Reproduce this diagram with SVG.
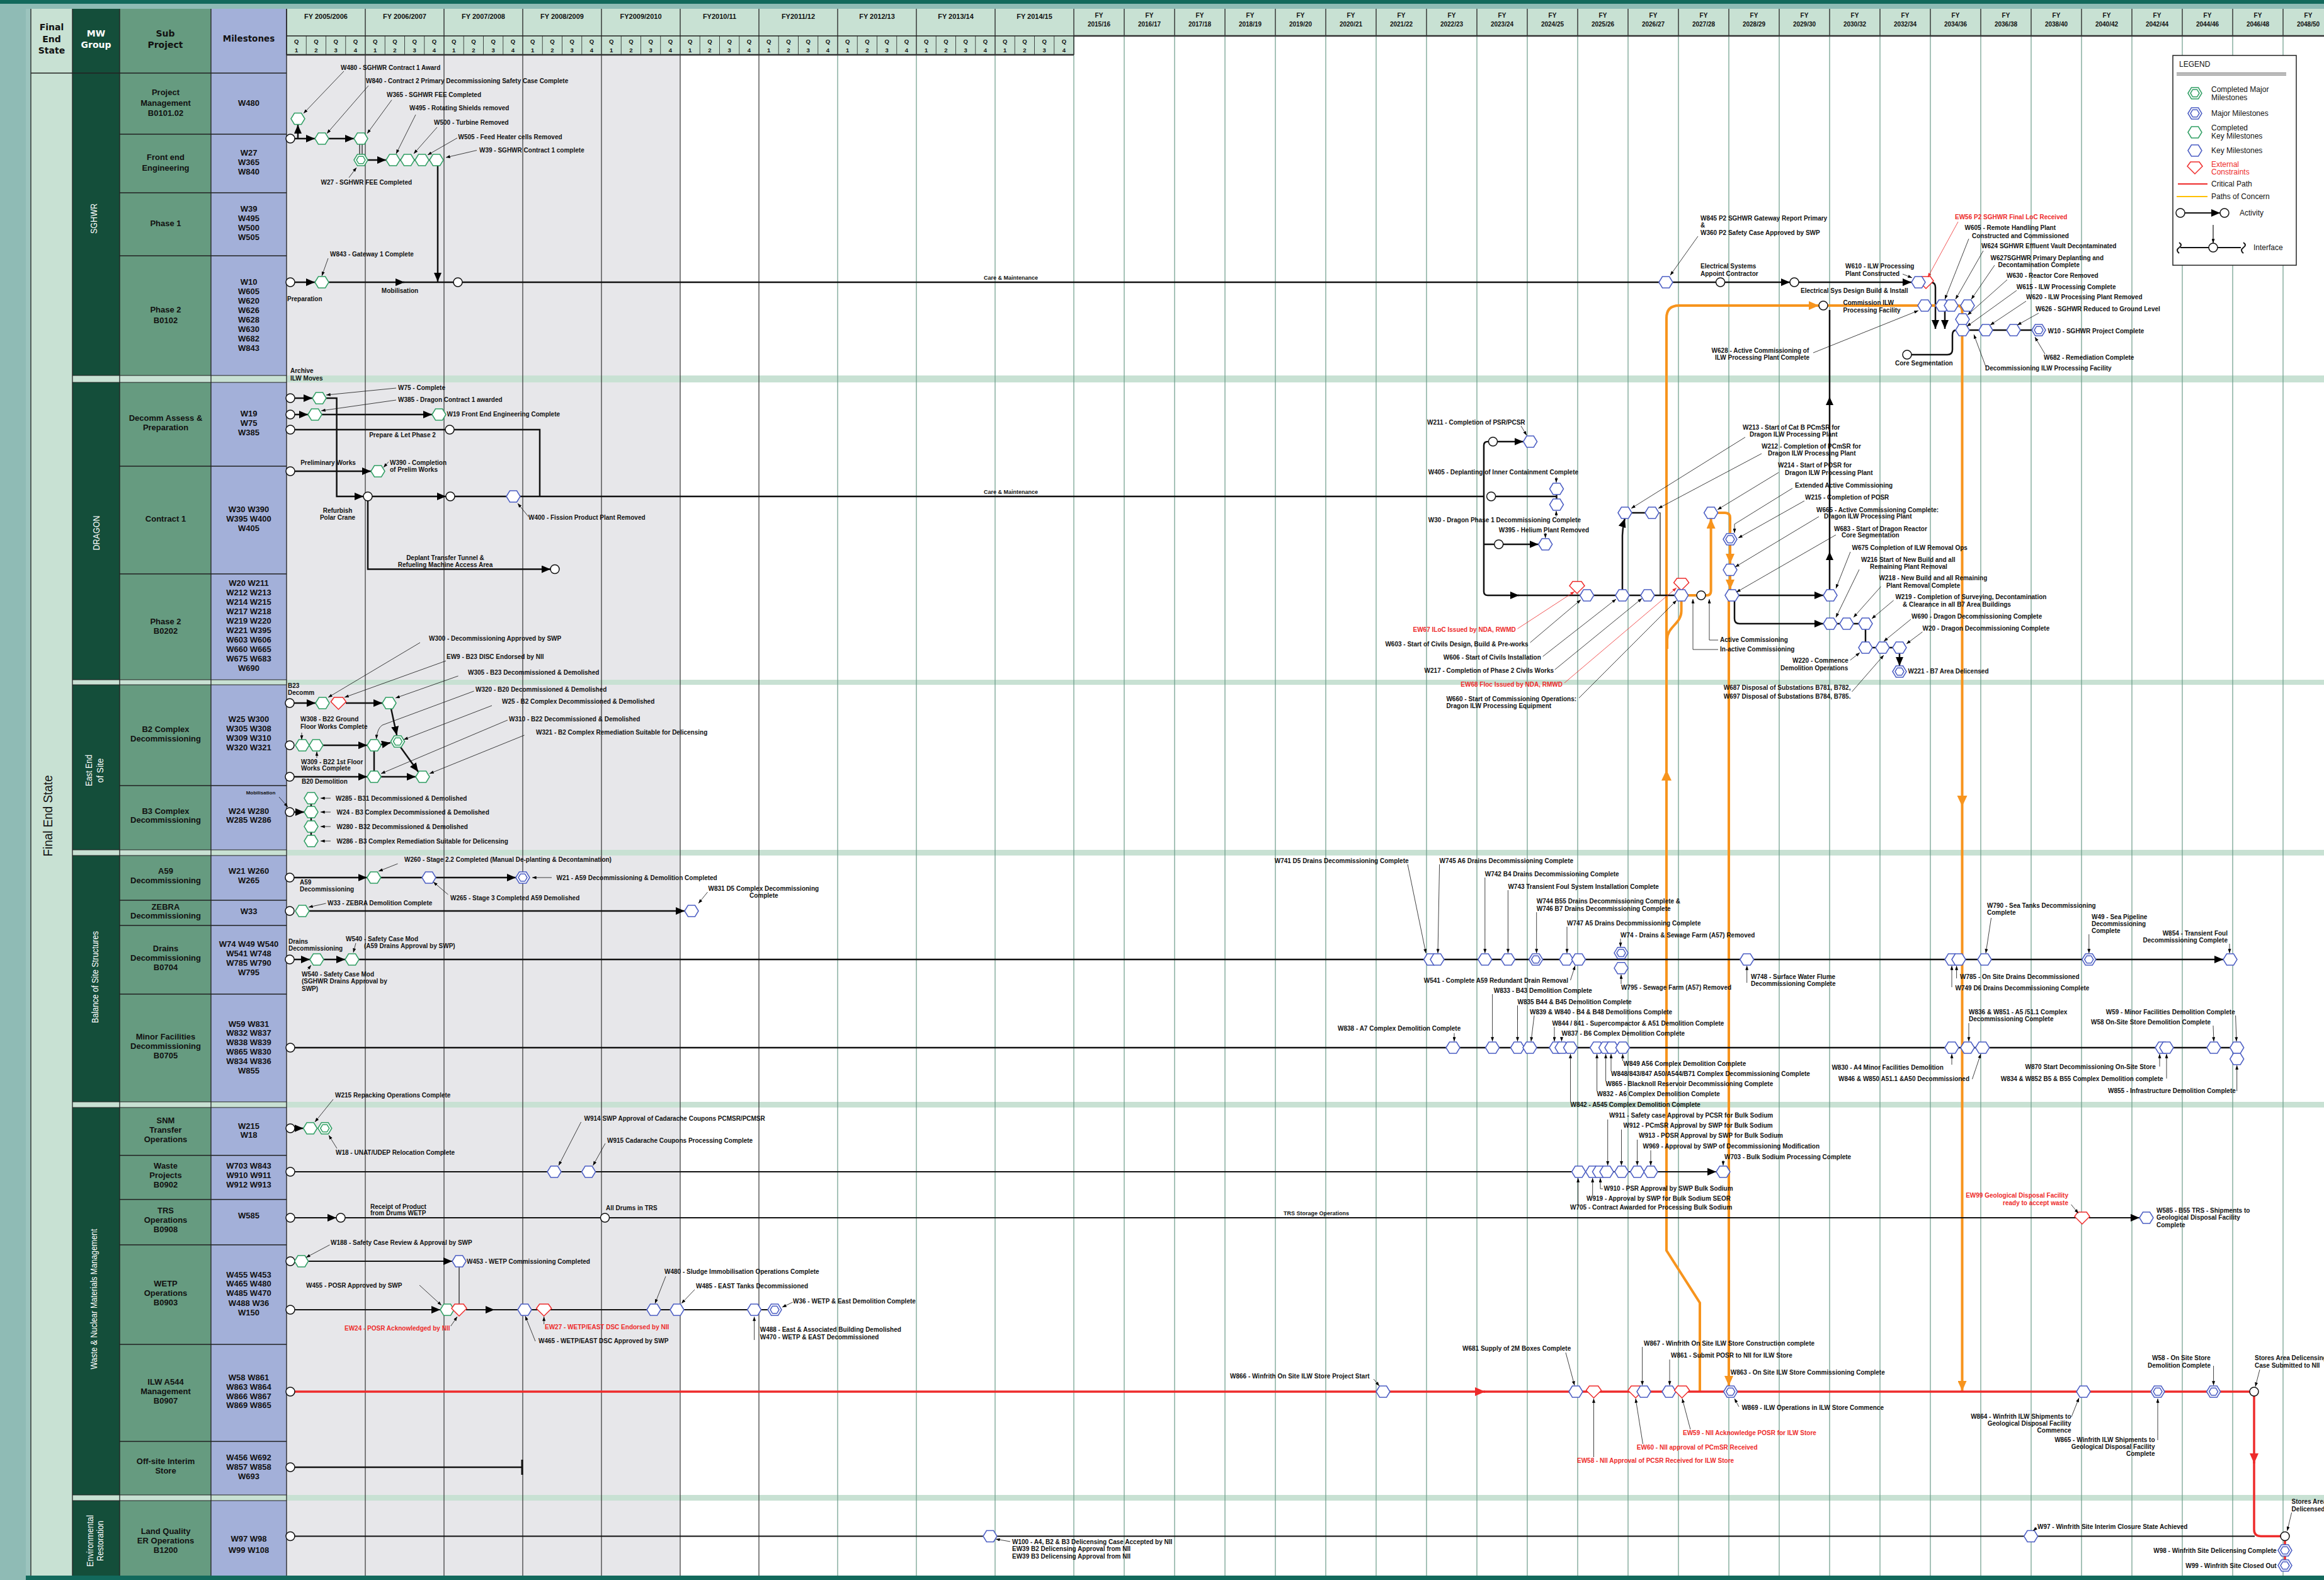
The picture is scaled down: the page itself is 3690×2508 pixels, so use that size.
<svg xmlns="http://www.w3.org/2000/svg" width="3690" height="2508" viewBox="0 0 3690 2508">
<style>
text{font-family:"Liberation Sans",Arial,sans-serif}
.t{font-size:10px;font-weight:bold;fill:#111}
.tr{font-size:10px;font-weight:bold;fill:#ee2b2b}
.ts{font-size:9px;font-weight:bold;fill:#111}
.m{text-anchor:middle}
.e{text-anchor:end}
.sp{font-size:13px;font-weight:bold;fill:#111;text-anchor:middle}
.hd{font-family:"DejaVu Sans",sans-serif;font-weight:bold;text-anchor:middle;fill:#111}
.mw{font-size:14px;fill:#fff;text-anchor:middle}
.lg{font-size:12px;fill:#111}
.hb{fill:#fff;stroke:#4b5dc3;stroke-width:1.5}
.hg{fill:#fff;stroke:#2f9e63;stroke-width:1.5}
.hr{fill:#fff;stroke:#ee2b2b;stroke-width:1.5}
.c{fill:#fff;stroke:#111;stroke-width:1.5}
.a{fill:none;stroke:#111;stroke-width:2.5}
.a2{fill:none;stroke:#111;stroke-width:1.8}
.a1{fill:none;stroke:#111;stroke-width:1.2}
.cp{fill:none;stroke:#ee2b2b;stroke-width:3.5}
.pc{fill:none;stroke:#f7941d;stroke-width:4}
.ld{fill:none;stroke:#111;stroke-width:0.8;marker-end:url(#s)}
.ldr{fill:none;stroke:#ee2b2b;stroke-width:0.8;marker-end:url(#sr)}
.gd{stroke:#333;stroke-width:1.2}
.gg{stroke:#6b9b89;stroke-width:1.2}
.bd{stroke:#222;stroke-width:1.3;fill:none}
</style>
<defs>
<polygon id="H" points="-11,0 -5.5,-9 5.5,-9 11,0 5.5,9 -5.5,9"/>
<g id="D"><polygon points="-11,0 -5.5,-9 5.5,-9 11,0 5.5,9 -5.5,9"/><polygon points="-7,0 -3.5,-5.8 3.5,-5.8 7,0 3.5,5.8 -3.5,5.8"/></g>
<polygon id="R" points="-7,-9 7,-9 12,-2 0,10 -12,-2"/>
<marker id="A" viewBox="0 0 14 12" refX="14" refY="6" markerWidth="14" markerHeight="12" markerUnits="userSpaceOnUse" orient="auto"><path d="M0,0L14,6L0,12z"/></marker>
<marker id="Ao" viewBox="0 0 16 14" refX="16" refY="7" markerWidth="16" markerHeight="14" markerUnits="userSpaceOnUse" orient="auto"><path d="M0,0L16,7L0,14z" fill="#f7941d"/></marker>
<marker id="Ar" viewBox="0 0 16 14" refX="16" refY="7" markerWidth="16" markerHeight="14" markerUnits="userSpaceOnUse" orient="auto"><path d="M0,0L16,7L0,14z" fill="#ee2b2b"/></marker>
<marker id="s" viewBox="0 0 8 6" refX="8" refY="3" markerWidth="7" markerHeight="5" markerUnits="userSpaceOnUse" orient="auto"><path d="M0,0L8,3L0,6z"/></marker>
<marker id="sr" viewBox="0 0 8 6" refX="8" refY="3" markerWidth="7" markerHeight="5" markerUnits="userSpaceOnUse" orient="auto"><path d="M0,0L8,3L0,6z" fill="#ee2b2b"/></marker>
</defs>

<g id="background">
<rect width="3690" height="2508" fill="#fff"/>
<rect x="455" y="87" width="625" height="2414" fill="#e7e7ea"/>
<rect x="0" y="0" width="41" height="2508" fill="#8fbbb5"/>
<rect x="41" y="14" width="8" height="2487" fill="#9cc4be"/>
<rect x="49" y="14" width="66" height="2487" fill="#c8e1d3"/>
<rect x="115" y="14" width="75" height="2487" fill="#144e3a"/>
<rect x="190" y="14" width="145" height="2487" fill="#669b80"/>
<rect x="335" y="14" width="120" height="2487" fill="#a3b0d9"/>
<rect x="0" y="0" width="3690" height="6" fill="#12695c"/>
<rect x="41" y="6" width="3649" height="8" fill="#8fbbb5"/>
<rect x="41" y="2501" width="3649" height="7" fill="#12695c"/>
<rect x="115" y="596" width="3575" height="11" fill="#c8e1d3"/>
<rect x="115" y="1079" width="3575" height="8" fill="#c8e1d3"/>
<rect x="115" y="1349" width="3575" height="9" fill="#c8e1d3"/>
<rect x="115" y="1749" width="3575" height="9" fill="#c8e1d3"/>
<rect x="115" y="2373" width="3575" height="9" fill="#c8e1d3"/>
<rect x="455" y="14" width="1250" height="73" fill="#c8e1d3"/>
<rect x="1705" y="14" width="1985" height="43" fill="#c8e1d3"/>
</g>

<g id="grid">
<path class="gd" d="M580,87V2501M705,87V2501M830,87V2501M955,87V2501M1080,87V2501M1205,87V2501"/>
<path class="gg" d="M1330,87V2501M1455,87V2501M1580,87V2501M1705,57V2501M1785,57V2501M1865,57V2501M1945,57V2501M2025,57V2501M2105,57V2501M2185,57V2501M2265,57V2501M2345,57V2501M2425,57V2501M2505,57V2501M2585,57V2501M2665,57V2501M2745,57V2501M2825,57V2501M2905,57V2501M2985,57V2501M3065,57V2501M3145,57V2501M3225,57V2501M3305,57V2501M3385,57V2501M3465,57V2501M3545,57V2501M3625,57V2501"/>
<path class="bd" d="M455,14V87M580,14V87M705,14V87M830,14V87M955,14V87M1080,14V87M1205,14V87M1330,14V87M1455,14V87M1580,14V87M1705,14V87M455,57H1705M1785,14V57M1865,14V57M1945,14V57M2025,14V57M2105,14V57M2185,14V57M2265,14V57M2345,14V57M2425,14V57M2505,14V57M2585,14V57M2665,14V57M2745,14V57M2825,14V57M2905,14V57M2985,14V57M3065,14V57M3145,14V57M3225,14V57M3305,14V57M3385,14V57M3465,14V57M3545,14V57M3625,14V57"/>
<path stroke="#222" stroke-width="0.8" d="M486.25,57V87M517.5,57V87M548.75,57V87M611.25,57V87M642.5,57V87M673.75,57V87M736.25,57V87M767.5,57V87M798.75,57V87M861.25,57V87M892.5,57V87M923.75,57V87M986.25,57V87M1017.5,57V87M1048.75,57V87M1111.25,57V87M1142.5,57V87M1173.75,57V87M1236.25,57V87M1267.5,57V87M1298.75,57V87M1361.25,57V87M1392.5,57V87M1423.75,57V87M1486.25,57V87M1517.5,57V87M1548.75,57V87M1611.25,57V87M1642.5,57V87M1673.75,57V87"/>
<path stroke="#333" stroke-width="2.5" d="M455,87H1705M1705,57H3690"/>
<path class="bd" d="M49,116H455M115,14V2501M190,14V2501M335,14V2501M455,14V2501M49,14V2501"/>
<path class="bd" d="M190,213H455M190,306H455M190,406H455M190,740H455M190,911H455M190,1247H455M190,1429H455M190,1469H455M190,1578H455M190,1834H455M190,1904H455M190,1976H455M190,2134H455M190,2288H455"/>
<path stroke="#222" stroke-width="1" d="M115,596H455M115,607H455M115,1079H455M115,1087H455M115,1349H455M115,1358H455M115,1749H455M115,1758H455M115,2373H455M115,2382H455"/>
</g>

<g id="header">
<text class="hd" font-size="14" x="82" y="47.5">Final</text>
<text class="hd" font-size="14" x="82" y="66.5">End</text>
<text class="hd" font-size="14" x="82" y="85">State</text>
<text class="hd" font-size="14" x="152.5" y="58" fill="#fff" style="fill:#fff">MW</text>
<text class="hd" font-size="14" x="152.5" y="76" style="fill:#fff">Group</text>
<text class="hd" font-size="14" x="262.5" y="58">Sub</text>
<text class="hd" font-size="14" x="262.5" y="76">Project</text>
<text class="hd" font-size="13.5" x="395" y="66">Milestones</text>
<g class="hd" font-size="11">
<text x="517.5" y="30">FY 2005/2006</text><text x="642.5" y="30">FY 2006/2007</text><text x="767.5" y="30">FY 2007/2008</text><text x="892.5" y="30">FY 2008/2009</text><text x="1017.5" y="30">FY2009/2010</text><text x="1142.5" y="30">FY2010/11</text><text x="1267.5" y="30">FY2011/12</text><text x="1392.5" y="30">FY 2012/13</text><text x="1517.5" y="30">FY 2013/14</text><text x="1642.5" y="30">FY 2014/15</text>
</g>
<g class="hd" font-size="9.5">
<text x="470.6 501.9 533.1 564.4 595.6 626.9 658.1 689.4 720.6 751.9 783.1 814.4 845.6 876.9 908.1 939.4 970.6 1001.9 1033.1 1064.4 1095.6 1126.9 1158.1 1189.4 1220.6 1251.9 1283.1 1314.4 1345.6 1376.9 1408.1 1439.4 1470.6 1501.9 1533.1 1564.4 1595.6 1626.9 1658.1 1689.4" y="69">QQQQQQQQQQQQQQQQQQQQQQQQQQQQQQQQQQQQQQQQ</text>
<text x="470.6 501.9 533.1 564.4 595.6 626.9 658.1 689.4 720.6 751.9 783.1 814.4 845.6 876.9 908.1 939.4 970.6 1001.9 1033.1 1064.4 1095.6 1126.9 1158.1 1189.4 1220.6 1251.9 1283.1 1314.4 1345.6 1376.9 1408.1 1439.4 1470.6 1501.9 1533.1 1564.4 1595.6 1626.9 1658.1 1689.4" y="83">1234123412341234123412341234123412341234</text>
</g>
<g class="hd" font-size="10">
<text x="1745" y="28">FY</text><text x="1745" y="42">2015/16</text>
<text x="1825" y="28">FY</text><text x="1825" y="42">2016/17</text>
<text x="1905" y="28">FY</text><text x="1905" y="42">2017/18</text>
<text x="1985" y="28">FY</text><text x="1985" y="42">2018/19</text>
<text x="2065" y="28">FY</text><text x="2065" y="42">2019/20</text>
<text x="2145" y="28">FY</text><text x="2145" y="42">2020/21</text>
<text x="2225" y="28">FY</text><text x="2225" y="42">2021/22</text>
<text x="2305" y="28">FY</text><text x="2305" y="42">2022/23</text>
<text x="2385" y="28">FY</text><text x="2385" y="42">2023/24</text>
<text x="2465" y="28">FY</text><text x="2465" y="42">2024/25</text>
<text x="2545" y="28">FY</text><text x="2545" y="42">2025/26</text>
<text x="2625" y="28">FY</text><text x="2625" y="42">2026/27</text>
<text x="2705" y="28">FY</text><text x="2705" y="42">2027/28</text>
<text x="2785" y="28">FY</text><text x="2785" y="42">2028/29</text>
<text x="2865" y="28">FY</text><text x="2865" y="42">2029/30</text>
<text x="2945" y="28">FY</text><text x="2945" y="42">2030/32</text>
<text x="3025" y="28">FY</text><text x="3025" y="42">2032/34</text>
<text x="3105" y="28">FY</text><text x="3105" y="42">2034/36</text>
<text x="3185" y="28">FY</text><text x="3185" y="42">2036/38</text>
<text x="3265" y="28">FY</text><text x="3265" y="42">2038/40</text>
<text x="3345" y="28">FY</text><text x="3345" y="42">2040/42</text>
<text x="3425" y="28">FY</text><text x="3425" y="42">2042/44</text>
<text x="3505" y="28">FY</text><text x="3505" y="42">2044/46</text>
<text x="3585" y="28">FY</text><text x="3585" y="42">2046/48</text>
<text x="3665" y="28">FY</text><text x="3665" y="42">2048/50</text>
</g>
</g>

<g id="side-labels">
<text transform="translate(83,1295) rotate(-90)" font-size="20" text-anchor="middle" fill="#111" textLength="129" lengthAdjust="spacingAndGlyphs">Final End State</text>
<text class="mw" transform="translate(154,347) rotate(-90)" textLength="48" lengthAdjust="spacingAndGlyphs">SGHWR</text>
<text class="mw" transform="translate(158,846) rotate(-90)" textLength="55" lengthAdjust="spacingAndGlyphs">DRAGON</text>
<text class="mw" transform="translate(146,1223) rotate(-90)" textLength="50" lengthAdjust="spacingAndGlyphs">East End</text>
<text class="mw" transform="translate(164,1223) rotate(-90)" textLength="39" lengthAdjust="spacingAndGlyphs">of Site</text>
<text class="mw" transform="translate(156,1551) rotate(-90)" textLength="146" lengthAdjust="spacingAndGlyphs">Balance of Site Structures</text>
<text class="mw" transform="translate(154,2062) rotate(-90)" textLength="223" lengthAdjust="spacingAndGlyphs">Waste &amp; Nuclear Materials Management</text>
<text class="mw" transform="translate(148,2446) rotate(-90)" textLength="82" lengthAdjust="spacingAndGlyphs">Environmental</text>
<text class="mw" transform="translate(164,2446) rotate(-90)" textLength="64" lengthAdjust="spacingAndGlyphs">Restoration</text>
<g class="sp">
<text x="263" y="151">Project</text><text x="263" y="168">Management</text><text x="263" y="184">B0101.02</text>
<text x="263" y="254">Front end</text><text x="263" y="271">Engineering</text>
<text x="263" y="359">Phase 1</text>
<text x="263" y="496">Phase 2</text><text x="263" y="513">B0102</text>
<text x="263" y="668">Decomm Assess &amp;</text><text x="263" y="683">Preparation</text>
<text x="263" y="828">Contract 1</text>
<text x="263" y="991">Phase 2</text><text x="263" y="1006">B0202</text>
<text x="263" y="1162">B2 Complex</text><text x="263" y="1177">Decommissioning</text>
<text x="263" y="1292">B3 Complex</text><text x="263" y="1306">Decommissioning</text>
<text x="263" y="1387">A59</text><text x="263" y="1402">Decommissioning</text>
<text x="263" y="1444">ZEBRA</text><text x="263" y="1458">Decommissioning</text>
<text x="263" y="1510">Drains</text><text x="263" y="1525">Decommissioning</text><text x="263" y="1540">B0704</text>
<text x="263" y="1650">Minor Facilities</text><text x="263" y="1665">Decommissioning</text><text x="263" y="1680">B0705</text>
<text x="263" y="1783">SNM</text><text x="263" y="1798">Transfer</text><text x="263" y="1813">Operations</text>
<text x="263" y="1855">Waste</text><text x="263" y="1870">Projects</text><text x="263" y="1885">B0902</text>
<text x="263" y="1926">TRS</text><text x="263" y="1941">Operations</text><text x="263" y="1956">B0908</text>
<text x="263" y="2042">WETP</text><text x="263" y="2057">Operations</text><text x="263" y="2072">B0903</text>
<text x="263" y="2198">ILW A544</text><text x="263" y="2213">Management</text><text x="263" y="2228">B0907</text>
<text x="263" y="2324">Off-site Interim</text><text x="263" y="2339">Store</text>
<text x="263" y="2435">Land Quality</text><text x="263" y="2450">ER Operations</text><text x="263" y="2465">B1200</text>
</g>
<g class="sp">
<text x="395" y="168">W480</text>
<text x="395" y="247">W27</text><text x="395" y="262">W365</text><text x="395" y="277">W840</text>
<text x="395" y="336">W39</text><text x="395" y="351">W495</text><text x="395" y="366">W500</text><text x="395" y="381">W505</text>
<text x="395" y="452">W10</text><text x="395" y="467">W605</text><text x="395" y="482">W620</text><text x="395" y="497">W626</text><text x="395" y="512">W628</text><text x="395" y="527">W630</text><text x="395" y="542">W682</text><text x="395" y="557">W843</text>
<text x="395" y="661">W19</text><text x="395" y="676">W75</text><text x="395" y="691">W385</text>
<text x="395" y="813">W30 W390</text><text x="395" y="828">W395 W400</text><text x="395" y="843">W405</text>
<text x="395" y="930">W20 W211</text><text x="395" y="945">W212 W213</text><text x="395" y="960">W214 W215</text><text x="395" y="975">W217 W218</text><text x="395" y="990">W219 W220</text><text x="395" y="1005">W221 W395</text><text x="395" y="1020">W603 W606</text><text x="395" y="1035">W660 W665</text><text x="395" y="1050">W675 W683</text><text x="395" y="1065">W690</text>
<text x="395" y="1146">W25 W300</text><text x="395" y="1161">W305 W308</text><text x="395" y="1176">W309 W310</text><text x="395" y="1191">W320 W321</text>
<text x="395" y="1292">W24 W280</text><text x="395" y="1306">W285 W286</text>
<text x="395" y="1387">W21 W260</text><text x="395" y="1402">W265</text>
<text x="395" y="1451">W33</text>
<text x="395" y="1503">W74 W49 W540</text><text x="395" y="1518">W541 W748</text><text x="395" y="1533">W785 W790</text><text x="395" y="1548">W795</text>
<text x="395" y="1630">W59 W831</text><text x="395" y="1644">W832 W837</text><text x="395" y="1659">W838 W839</text><text x="395" y="1674">W865 W830</text><text x="395" y="1689">W834 W836</text><text x="395" y="1704">W855</text>
<text x="395" y="1792">W215</text><text x="395" y="1806">W18</text>
<text x="395" y="1855">W703 W843</text><text x="395" y="1870">W910 W911</text><text x="395" y="1885">W912 W913</text>
<text x="395" y="1934">W585</text>
<text x="395" y="2028">W455 W453</text><text x="395" y="2042">W465 W480</text><text x="395" y="2057">W485 W470</text><text x="395" y="2073">W488 W36</text><text x="395" y="2088">W150</text>
<text x="395" y="2191">W58 W861</text><text x="395" y="2206">W863 W864</text><text x="395" y="2221">W866 W867</text><text x="395" y="2235">W869 W865</text>
<text x="395" y="2318">W456 W692</text><text x="395" y="2333">W857 W858</text><text x="395" y="2348">W693</text>
<text x="395" y="2447">W97 W98</text><text x="395" y="2465">W99 W108</text>
</g>
</g>

<g id="connectors">
<path class="a" d="M468,220H500" marker-end="url(#A)"/>
<path class="a" d="M473,220V198" marker-end="url(#A)"/>
<path class="a" d="M522,220H562" marker-end="url(#A)"/>
<path class="a1" d="M571,229V245M575,229V245"/>
<path class="a" d="M584,254H613" marker-end="url(#A)"/>
<path class="a" d="M635,254H682"/>
<path class="a" d="M695,263V447" marker-end="url(#A)"/>
<path class="a" d="M468,448H500" marker-end="url(#A)"/>
<path class="a" d="M522,448H642" marker-end="url(#A)"/>
<path class="a" d="M640,448H720"/>
<path class="a" d="M734,448H2634"/>
<path class="a" d="M2656,448H2724.6"/>
<path class="a" d="M2738.6,448H2842" marker-end="url(#A)"/>
<path class="a" d="M2856,448H3035" marker-end="url(#A)"/>
<path class="a" d="M3057,448H3065Q3073,448 3073,456V522" marker-end="url(#A)"/>
<path class="a" d="M3088,494V522" marker-end="url(#A)"/>
<path class="a" d="M3109,485H3113"/>
<path class="a" d="M3127,524H3226"/>
<path class="a" d="M3035,563H3092Q3100,563 3100,555V532Q3100,524 3106,524"/>
<path class="a" d="M2905,936V492"/>
<path d="M2905,630l-6,13h12z"/>
<path d="M2905,876l-6,13h12z"/>
<path class="pc" d="M2699,2209V2068L2646,1985V505Q2646,485 2666,485H2888" marker-end="url(#Ao)"/>
<path d="M2646,1222l-8,17h16z" fill="#f7941d"/>
<path class="pc" d="M2902,485H3107Q3115.5,485 3115.5,494V2208" marker-end="url(#Ao)"/>
<path d="M3115.5,1280l-8,-17h16z" fill="#f7941d"/>
<path class="pc" d="M2680,945H2694"/>
<path class="pc" d="M2708,945H2710Q2716.6,945 2716.6,938V823" marker-end="url(#Ao)"/>
<path class="pc" d="M2727.6,814H2739Q2747,814 2747,822V846"/>
<path class="pc" d="M2747,865V895" marker-end="url(#Ao)"/>
<path class="pc" d="M2747,914V936" marker-end="url(#Ao)"/>
<path class="pc" d="M2745,954V2200" marker-end="url(#Ao)"/>
<path class="pc" d="M2669.6,954V970C2669.6,990 2647,995 2647,1015V1030"/>
<path class="a" d="M468,632H496" marker-end="url(#A)"/>
<path class="a" d="M518,632H534.6V788H577" marker-end="url(#A)"/>
<path class="a" d="M468,658H489" marker-end="url(#A)"/>
<path class="a" d="M511,658H686" marker-end="url(#A)"/>
<path class="a" d="M468,682H707"/>
<path class="a" d="M721,682H857V788"/>
<path class="a" d="M468,748H589" marker-end="url(#A)"/>
<path class="a" d="M591,788H708" marker-end="url(#A)"/>
<path class="a" d="M722,788H804"/>
<path class="a" d="M826,788H2356"/>
<path class="a" d="M584,795V903.5H874" marker-end="url(#A)"/>
<path class="a" d="M2363.5,701H2362Q2356,701 2356,707V939Q2356,945 2362,945H2412" marker-end="url(#A)"/>
<path class="a" d="M2410,945H2669"/>
<path class="a" d="M2377.5,701H2418.6" marker-end="url(#A)"/>
<path class="a" d="M2356,864H2372.7"/>
<path class="a" d="M2386.7,864H2442.7" marker-end="url(#A)"/>
<path class="a" d="M2374.6,788H2471.5V785M2471.5,788V792"/>
<path class="a" d="M2576,936V850Q2577,832 2580,823" marker-end="url(#A)"/>
<path class="a" d="M2591,814H2612"/>
<path class="a1" d="M2634,814H2636V945"/>
<path class="a" d="M2761,945H2895" marker-end="url(#A)"/>
<path class="a" d="M2754,954V982Q2754,990 2762,990H2895" marker-end="url(#A)"/>
<path class="a" d="M2917,990H2951"/>
<path class="a" d="M2962,999V1019"/>
<path class="a" d="M2973,1028H3005"/>
<path class="a" d="M3016,1037V1057" marker-end="url(#A)"/>
<path class="a" d="M467,1116H501" marker-end="url(#A)"/>
<path class="a" d="M549,1116H607" marker-end="url(#A)"/>
<path class="a" d="M621,1125L630,1167" marker-end="url(#A)"/>
<path class="a" d="M513,1183H583" marker-end="url(#A)"/>
<path class="a" d="M605,1182L620,1179" marker-end="url(#A)"/>
<path class="a" d="M594,1192V1224"/>
<path class="a" d="M467,1233H583" marker-end="url(#A)"/>
<path class="a" d="M605,1233H660" marker-end="url(#A)"/>
<path class="a" d="M636,1186L664,1225" marker-end="url(#A)"/>
<path class="a" d="M467,1289H483" marker-end="url(#A)"/>
<path class="a" d="M494,1267V1335"/>
<path class="a" d="M467,1393H582.7" marker-end="url(#A)"/>
<path class="a" d="M604.7,1393H670"/>
<path class="a" d="M692,1393H819" marker-end="url(#A)"/>
<path class="a" d="M491,1446H1087" marker-end="url(#A)"/>
<path class="a" d="M467,1523H492" marker-end="url(#A)"/>
<path class="a" d="M514,1523H548" marker-end="url(#A)"/>
<path class="a" d="M570,1523H3530" marker-end="url(#A)"/>
<path class="a" d="M468,1663H3541"/>
<path class="a" d="M468,1791H481.6" marker-end="url(#A)"/>
<path class="a2" d="M468,1860H2725" marker-end="url(#A)"/>
<path class="a2" d="M468,1933H534" marker-end="url(#A)"/>
<path class="a2" d="M548,1933H953.5"/>
<path class="a2" d="M967.5,1933H3306"/>
<path class="a2" d="M3317,1933H3397" marker-end="url(#A)"/>
<path class="a2" d="M489.6,2002H718" marker-end="url(#A)"/>
<path class="a1" d="M729,2011V2070"/>
<path class="a2" d="M468,2079H699" marker-end="url(#A)"/>
<path class="a2" d="M740,2079H785" marker-end="url(#A)"/>
<path class="a2" d="M783,2079H1230"/>
<path class="cp" d="M468,2209H2358" marker-end="url(#Ar)"/>
<path class="cp" d="M2356,2209H3572"/>
<path class="cp" d="M3579,2216V2323" marker-end="url(#Ar)"/>
<path class="cp" d="M3579,2320V2428Q3579,2438.5 3590,2438.5H3621"/>
<path class="cp" d="M3628,2445.5V2476"/>
<path class="a" d="M468,2329H829"/>
<path stroke="#111" stroke-width="3" d="M829,2317V2341"/>
<path class="a2" d="M468,2438.5H3580"/>
</g>

<g id="nodes">
<g id="sg-start1"><circle class="c" cx="461" cy="220" r="7"/></g>
<g id="W480"><use href="#H" x="473" y="188.5" class="hg"/><text class="t" x="541" y="111">W480 - SGHWR Contract 1 Award</text><path class="ld" d="M546,113L482,180"/></g>
<g id="W840"><use href="#H" x="511" y="220" class="hg"/><text class="t" x="581" y="132">W840 - Contract 2 Primary Decommissioning Safety Case Complete</text><path class="ld" d="M585,136L519,212"/></g>
<g id="W365"><use href="#H" x="573" y="220" class="hg"/><text class="t" x="614" y="153.5">W365 - SGHWR FEE Completed</text><path class="ld" d="M622,158.6L583,212"/></g>
<g id="W27"><use href="#D" x="573" y="254" class="hg"/><text class="t" x="509.6" y="293">W27 - SGHWR FEE Completed</text><path class="ld" d="M554,282L566,266"/></g>
<g id="W495"><use href="#H" x="624" y="254" class="hg"/><text class="t" x="650" y="174.5">W495 - Rotating Shields removed</text><path class="ld" d="M660,182L629,244"/></g>
<g id="W500"><use href="#H" x="647" y="254" class="hg"/><text class="t" x="689" y="197.5">W500 - Turbine Removed</text><path class="ld" d="M694,202L657,244"/></g>
<g id="W505"><use href="#H" x="670" y="254" class="hg"/><text class="t" x="727.5" y="220.5">W505 - Feed Heater cells Removed</text><path class="ld" d="M726,219L679,246"/></g>
<g id="W39"><use href="#H" x="693" y="254" class="hg"/><text class="t" x="761" y="241.5">W39 - SGHWR Contract 1 complete</text><path class="ld" d="M757,238.6L708,250"/></g>
<g id="sg-start2"><circle class="c" cx="461" cy="448" r="7"/><text class="t" x="456" y="478">Preparation</text></g>
<g id="W843"><use href="#H" x="511" y="448" class="hg"/><text class="t" x="524" y="406.5">W843 - Gateway 1 Complete</text><path class="ld" d="M521,410L511,438"/></g>
<g id="sg-mob"><circle class="c" cx="727" cy="448" r="7"/><text class="t m" x="635" y="464.5">Mobilisation</text><text class="ts m" x="1605" y="444">Care &amp; Maintenance</text><text class="t" x="461" y="591.5">Archive</text><text class="t" x="461" y="603.5">ILW Moves</text></g>
<g id="W845"><use href="#H" x="2645" y="448" class="hb"/><text class="t" x="2700" y="350">W845 P2 SGHWR Gateway Report Primary</text><text class="t" x="2700" y="361">&amp;</text><text class="t" x="2700" y="372.5">W360 P2 Safety Case Approved by SWP</text><path class="ld" d="M2696,375L2652,437"/></g>
<g id="sg-elec"><circle class="c" cx="2731.6" cy="448" r="7"/><text class="t" x="2700" y="425.5">Electrical Systems</text><text class="t" x="2700" y="437.5">Appoint Contractor</text><circle class="c" cx="2849" cy="448" r="7"/><text class="t" x="2859" y="464.5">Electrical Sys Design Build &amp; Install</text></g>
<g id="EW56"><use href="#R" x="3058" y="448" class="hr"/><text class="tr" x="3104" y="348">EW56 P2 SGHWR Final LoC Received</text><path class="ldr" d="M3109,352L3061,440"/></g>
<g id="W610"><use href="#H" x="3046" y="448" class="hb"/><text class="t" x="2930" y="425.5">W610 - ILW Processing</text><text class="t" x="2930" y="437.5">Plant Constructed</text><path class="ld" d="M3021,435L3036,441"/></g>
<g id="sg-commission"><circle class="c" cx="2895" cy="485" r="7"/><text class="t" x="2926.5" y="483.5">Commission ILW</text><text class="t" x="2926.5" y="495.5">Processing Facility</text></g>
<g id="W628"><use href="#H" x="3056" y="485" class="hb"/><text class="t" x="2717.6" y="560">W628 - Active Commissioning of</text><text class="t" x="2723" y="571">ILW Processing Plant Complete</text><path class="ld" d="M2879,560L3046,493"/></g>
<g id="W605"><use href="#H" x="3084" y="485" class="hb"/><text class="t" x="3119.5" y="365">W605 - Remote Handling Plant</text><text class="t" x="3131" y="377.5">Constructed and Commissioned</text><path class="ld" d="M3126,379L3088,475"/></g>
<g id="W624"><use href="#H" x="3098" y="485" class="hb"/><text class="t" x="3146" y="394">W624 SGHWR Effluent Vault Decontaminated</text><path class="ld" d="M3149,398L3105,475"/></g>
<g id="W627"><use href="#H" x="3124" y="485" class="hb"/><text class="t" x="3160.6" y="412.5">W627SGHWR Primary Deplanting and</text><text class="t" x="3172.5" y="423.5">Decontamination Complete</text><path class="ld" d="M3167,421L3130,475"/></g>
<g id="W630"><use href="#H" x="3116" y="507" class="hb"/><text class="t" x="3186" y="441">W630 - Reactor Core Removed</text><path class="ld" d="M3187,444L3124,500"/></g>
<g id="W615"><use href="#H" x="3116" y="524" class="hb"/><text class="t" x="3201.7" y="458.5">W615 - ILW Processing Complete</text><path class="ld" d="M3202,461L3123,518"/></g>
<g id="W620"><use href="#H" x="3153" y="524" class="hb"/><text class="t" x="3217" y="475">W620 - ILW Processing Plant Removed</text><path class="ld" d="M3217,478L3160,516"/></g>
<g id="W626"><use href="#H" x="3197" y="524" class="hb"/><text class="t" x="3232" y="494">W626 - SGHWR Reduced to Ground Level</text><path class="ld" d="M3237,497L3203,516"/></g>
<g id="W10"><use href="#D" x="3237" y="524" class="hb"/><text class="t" x="3251.5" y="528.5">W10 - SGHWR Project Complete</text></g>
<g id="W682"><text class="t" x="3245" y="571">W682 - Remediation Complete</text><path class="ld" d="M3247,562L3231,535"/></g>
<g id="sg-decomm-ilw"><text class="t" x="3152" y="587.5">Decommissioning ILW Processing Facility</text><path class="ld" d="M3153,582L3134,531"/></g>
<g id="sg-core"><circle class="c" cx="3028" cy="563" r="7"/><text class="t" x="3009" y="580">Core Segmentation</text></g>

<g id="dr-c1"><circle class="c" cx="461" cy="632" r="7"/></g>
<g id="W75"><use href="#H" x="507" y="632" class="hg"/><text class="t" x="632" y="619">W75 - Complete</text><path class="ld" d="M629,616L518,627"/></g>
<g id="dr-c2"><circle class="c" cx="461" cy="658" r="7"/></g>
<g id="W385"><use href="#H" x="500" y="658" class="hg"/><text class="t" x="632" y="638">W385 - Dragon Contract 1 awarded</text><path class="ld" d="M629,635L510,652"/></g>
<g id="W19"><use href="#H" x="697" y="658" class="hg"/><text class="t" x="709.6" y="661">W19 Front End Engineering Complete</text></g>
<g id="dr-c3"><circle class="c" cx="461" cy="682" r="7"/><circle class="c" cx="714" cy="682" r="7"/><text class="t m" x="639" y="693.5">Prepare &amp; Let Phase 2</text></g>
<g id="dr-c4"><circle class="c" cx="461" cy="748" r="7"/><text class="t m" x="521" y="737.5">Preliminary Works</text></g>
<g id="W390"><use href="#H" x="600" y="748" class="hg"/><text class="t" x="619" y="737.5">W390 - Completion</text><text class="t" x="619" y="748.5">of Prelim Works</text><path class="ld" d="M617,733L609,742"/></g>
<g id="dr-c5"><circle class="c" cx="584" cy="788" r="7"/><text class="t m" x="536" y="814">Refurbish</text><text class="t m" x="536" y="825">Polar Crane</text><circle class="c" cx="715" cy="788" r="7"/><text class="ts m" x="1605" y="784">Care &amp; Maintenance</text></g>
<g id="W400"><use href="#H" x="815" y="788" class="hb"/><text class="t" x="839" y="825">W400 - Fission Product Plant Removed</text><path class="ld" d="M839,820L822,799"/></g>
<g id="dr-c6"><circle class="c" cx="881" cy="903.5" r="7"/><text class="t m" x="707" y="888.5">Deplant Transfer Tunnel &amp;</text><text class="t m" x="707" y="899.5">Refueling Machine Access Area</text></g>
<g id="dr-c7"><circle class="c" cx="2370.5" cy="701" r="7"/><circle class="c" cx="2379.7" cy="864" r="7"/><circle class="c" cx="2367.6" cy="788" r="7"/></g>
<g id="W211"><use href="#H" x="2429.6" y="701" class="hb"/><text class="t" x="2266" y="674">W211 - Completion of PSR/PCSR</text><path class="ld" d="M2415,676L2424,691"/></g>
<g id="W405"><use href="#H" x="2471.5" y="776" class="hb"/><text class="t" x="2267.7" y="752.5">W405 - Deplanting of Inner Containment Complete</text><path class="ld" d="M2471,757V766"/></g>
<g id="W30"><use href="#H" x="2471.5" y="801" class="hb"/><text class="t" x="2267.7" y="829">W30 - Dragon Phase 1 Decommissioning Complete</text><path class="ld" d="M2471,820V811"/></g>
<g id="W395"><use href="#H" x="2453.7" y="864" class="hb"/><text class="t" x="2379.7" y="845">W395 - Helium Plant Removed</text><path class="ld" d="M2453.7,846V854"/></g>
<g id="EW67"><use href="#R" x="2504" y="932" class="hr"/><text class="tr e" x="2406.7" y="1003">EW67 ILoC Issued by NDA, RWMD</text><path class="ldr" d="M2409.5,998L2500,939"/></g>
<g id="W603"><use href="#H" x="2519.7" y="945" class="hb"/><text class="t e" x="2426.7" y="1025.5">W603 - Start of Civils Design, Build &amp; Pre-works</text><path class="ld" d="M2429.6,1020L2510,952"/></g>
<g id="W606"><use href="#H" x="2576" y="945" class="hb"/><text class="t e" x="2446.8" y="1047">W606 - Start of Civils Installation</text><path class="ld" d="M2449.7,1042L2566,951"/></g>
<g id="W217"><use href="#H" x="2616" y="945" class="hb"/><text class="t e" x="2467" y="1068">W217 - Completion of Phase 2 Civils Works</text><path class="ld" d="M2468.7,1063L2607,950"/></g>
<g id="W213"><use href="#H" x="2580" y="814" class="hb"/><text class="t" x="2767" y="682">W213 - Start of Cat B PCmSR for</text><text class="t" x="2778" y="693">Dragon ILW Processing Plant</text><path class="ld" d="M2771,694L2590,807"/></g>
<g id="W212"><use href="#H" x="2623" y="814" class="hb"/><text class="t" x="2797" y="712">W212 - Completion of PCmSR for</text><text class="t" x="2807" y="722.5">Dragon ILW Processing Plant</text><path class="ld" d="M2797,720L2633,807"/></g>
<g id="W214"><use href="#H" x="2716.6" y="814" class="hb"/><text class="t" x="2823" y="742">W214 - Start of POSR for</text><text class="t" x="2834" y="753.5">Dragon ILW Processing Plant</text><path class="ld" d="M2824,750L2727,809"/></g>
<g id="EW68"><use href="#R" x="2669.6" y="927" class="hr"/><text class="tr e" x="2481" y="1090">EW68 Floc Issued by NDA, RMWD</text><path class="ldr" d="M2484,1084L2662,933"/></g>
<g id="W660"><use href="#H" x="2669.6" y="945" class="hb"/><text class="t" x="2296.4" y="1112.5">W660 - Start of Commissioning Operations:</text><text class="t" x="2296.4" y="1123.5">Dragon ILW Processing Equipment</text><path class="ld" d="M2507,1108L2662,953"/></g>
<g id="dr-c8"><circle class="c" cx="2701" cy="945" r="7"/><text class="t" x="2731" y="1019">Active Commissioning</text><path class="ld" d="M2728,1016H2714V951"/><text class="t" x="2731" y="1034">In-active Commissioning</text><path class="ld" d="M2728,1031H2688V951"/></g>
<g id="dr-extended"><text class="t" x="2850" y="773.5">Extended Active Commissioning</text><path class="ld" d="M2846,775L2754,832V846"/></g>
<g id="W215"><use href="#D" x="2747" y="856" class="hb"/><text class="t" x="2866" y="792.5">W215 - Completion of POSR</text><path class="ld" d="M2865,795L2760,854"/></g>
<g id="W665"><use href="#H" x="2747" y="904.6" class="hb"/><text class="t" x="2884" y="812.5">W665 - Active Commissioning Complete:</text><text class="t" x="2896" y="823">Dragon ILW Processing Plant</text><path class="ld" d="M2888,820L2755,900"/></g>
<g id="W683"><use href="#H" x="2750" y="945" class="hb"/><text class="t" x="2912" y="842.5">W683 - Start of Dragon Reactor</text><text class="t" x="2924" y="853">Core Segmentation</text><path class="ld" d="M2915,849L2757,940"/></g>
<g id="W675"><use href="#H" x="2906" y="945" class="hb"/><text class="t" x="2940.5" y="873">W675 Completion of ILW Removal Ops</text><path class="ld" d="M2938,876L2915,934"/></g>
<g id="W216"><use href="#H" x="2906" y="990" class="hb"/><text class="t" x="2955" y="891.5">W216 Start of New Build and all</text><text class="t" x="2969" y="902.5">Remaining Plant Removal</text><path class="ld" d="M2952,904L2915,980"/></g>
<g id="W218"><use href="#H" x="2932" y="990" class="hb"/><text class="t" x="2983.6" y="921">W218 - New Build and all Remaining</text><text class="t" x="2995" y="932.5">Plant Removal Complete</text><path class="ld" d="M2986.5,931L2943,980"/></g>
<g id="W219"><use href="#H" x="2962" y="990" class="hb"/><text class="t" x="3009.4" y="951">W219 - Completion of Surveying, Decontamination</text><text class="t" x="3021" y="962.5">&amp; Clearance in all B7 Area Buildings</text><path class="ld" d="M3006.6,953L2972,982"/></g>
<g id="W220"><use href="#H" x="2962" y="1028" class="hb"/><text class="t" x="2846" y="1052">W220 - Commence</text><text class="t" x="2827" y="1064">Demolition Operations</text><path class="ld" d="M2937.6,1048L2953,1036"/></g>
<g id="W690"><use href="#H" x="2989" y="1028" class="hb"/><text class="t" x="3035" y="981.5">W690 - Dragon Decommissioning Complete</text><path class="ld" d="M3034,983L2991,1018"/></g>
<g id="W20"><use href="#H" x="3016" y="1028" class="hb"/><text class="t" x="3052.5" y="1001">W20 - Dragon Decommissioning Complete</text><path class="ld" d="M3052.5,1003L3027,1022"/></g>
<g id="W221"><use href="#D" x="3016" y="1066" class="hb"/><text class="t" x="3029.5" y="1069">W221 - B7 Area Delicensed</text></g>
<g id="W687"><text class="t" x="2736.7" y="1095">W687 Disposal of Substations B781, B782,</text><text class="t" x="2736.7" y="1108.5">W697 Disposal of Substations B784, B785.</text><path class="ld" d="M2940.5,1098L2991,1040"/></g>

<g id="ee-c1"><circle class="c" cx="460" cy="1116" r="7"/><text class="t" x="457" y="1092">B23</text><text class="t" x="457" y="1103">Decomm</text></g>
<g id="W300"><use href="#H" x="512" y="1116" class="hg"/><text class="t" x="681" y="1017">W300 - Decommissioning Approved by SWP</text><path class="ld" d="M667,1020L521,1107"/></g>
<g id="EW9"><use href="#R" x="537.4" y="1116" class="hr"/><text class="t" x="709" y="1046">EW9 - B23  DISC Endorsed by NII</text><path class="ld" d="M708,1049L547,1107"/></g>
<g id="W305"><use href="#H" x="618" y="1116" class="hg"/><text class="t" x="743" y="1071">W305 - B23 Decommissioned &amp; Demolished</text><path class="ld" d="M727.5,1073L628,1108"/></g>
<g id="W25"><use href="#D" x="631.5" y="1177" class="hg"/><text class="t" x="797" y="1117">W25 - B2 Complex Decommissioned &amp; Demolished</text><path class="ld" d="M781,1120L641,1174"/></g>
<g id="ee-c2"><circle class="c" cx="460" cy="1183" r="7"/></g>
<g id="W308"><use href="#H" x="480" y="1183" class="hg"/><text class="t" x="477" y="1144.5">W308 - B22 Ground</text><text class="t" x="477" y="1157">Floor Works Complete</text><path class="ld" d="M479,1163V1174"/></g>
<g id="W309"><use href="#H" x="502" y="1183" class="hg"/><text class="t" x="478" y="1212.5">W309 - B22 1st Floor</text><text class="t" x="478" y="1223">Works Complete</text><path class="ld" d="M503,1203V1193"/></g>
<g id="W320"><use href="#H" x="594" y="1183" class="hg"/><text class="t" x="755" y="1098">W320 - B20 Decommissioned &amp; Demolished</text><path class="ld" d="M752.6,1097L607,1151Q599,1156 597.5,1173"/></g>
<g id="ee-c3"><circle class="c" cx="460" cy="1233" r="7"/><text class="t" x="479" y="1243.5">B20 Demolition</text></g>
<g id="W310"><use href="#H" x="594" y="1233" class="hg"/><text class="t" x="808" y="1144.5">W310 - B22 Decommissioned &amp; Demolished</text><path class="ld" d="M806,1143L605,1228"/></g>
<g id="W321"><use href="#H" x="671" y="1233" class="hg"/><text class="t" x="851" y="1165.5">W321 - B2 Complex Remediation Suitable for Delicensing</text><path class="ld" d="M832.6,1167L682,1228"/></g>
<g id="ee-c4"><circle class="c" cx="460" cy="1289" r="7"/><text class="m" x="414" y="1261" font-size="8" font-weight="bold" fill="#111">Mobilisation</text><path class="ld" d="M443,1265L457,1281"/></g>
<g id="W285"><use href="#H" x="494" y="1267" class="hg"/><text class="t" x="533" y="1270.5">W285 - B31 Decommissioned &amp; Demolished</text><path class="ld" d="M525,1267H509"/></g>
<g id="W24"><use href="#H" x="494" y="1289" class="hg"/><text class="t" x="534.5" y="1292.5">W24 - B3 Complex Decommissioned &amp; Demolished</text><path class="ld" d="M525,1289H509"/></g>
<g id="W280"><use href="#H" x="494" y="1312" class="hg"/><text class="t" x="534.5" y="1316">W280 - B32 Decommissioned &amp; Demolished</text><path class="ld" d="M525,1312H509"/></g>
<g id="W286"><use href="#H" x="494" y="1335" class="hg"/><text class="t" x="534.5" y="1339">W286 - B3 Complex Remediation Suitable for Delicensing</text><path class="ld" d="M525,1335H509"/></g>

<g id="bs-c1"><circle class="c" cx="460" cy="1393" r="7"/><text class="t" x="476" y="1403.5">A59</text><text class="t" x="476" y="1414.5">Decommissioning</text></g>
<g id="W260"><use href="#H" x="593.7" y="1393" class="hg"/><text class="t" x="642" y="1367.5">W260 - Stage 2.2 Completed (Manual De-planting &amp; Decontamination)</text><path class="ld" d="M631.5,1371L601,1383"/></g>
<g id="W265"><use href="#H" x="681" y="1393" class="hb"/><text class="t" x="715" y="1428.5">W265 - Stage 3 Completed A59 Demolished</text><path class="ld" d="M711.5,1420L688,1400"/></g>
<g id="W21"><use href="#D" x="830" y="1393" class="hb"/><text class="t" x="883.5" y="1396.5">W21 - A59 Decommissioning &amp; Demolition Completed</text><path class="ld" d="M876,1393H845"/></g>
<g id="bs-c2"><circle class="c" cx="460" cy="1446" r="7"/></g>
<g id="W33"><use href="#H" x="480" y="1446" class="hg"/><text class="t" x="520" y="1436.5">W33 - ZEBRA Demolition Complete</text><path class="ld" d="M517.6,1434L490,1440"/></g>
<g id="W831"><use href="#H" x="1098" y="1446" class="hb"/><text class="t" x="1124.5" y="1413.5">W831 D5 Complex Decommissioning</text><text class="t" x="1190" y="1425">Complete</text><path class="ld" d="M1123.5,1416L1109,1434"/></g>
<g id="bs-c3"><circle class="c" cx="460" cy="1523" r="7"/><text class="t" x="458" y="1498">Drains</text><text class="t" x="458" y="1509">Decommissioning</text></g>
<g id="W540a"><use href="#H" x="503" y="1523" class="hg"/><text class="t" x="479" y="1549.5">W540 - Safety Case Mod</text><text class="t" x="479" y="1561">(SGHWR Drains Approval by</text><text class="t" x="479" y="1572.5">SWP)</text><path class="ld" d="M488.5,1539L494,1532"/></g>
<g id="W540b"><use href="#H" x="559" y="1523" class="hg"/><text class="t" x="549" y="1494">W540 - Safety Case Mod</text><text class="t" x="578" y="1505">(A59 Drains Approval by SWP)</text><path class="ld" d="M565,1497L561,1512"/></g>
<g id="W741"><use href="#H" x="2271.6" y="1523" class="hb"/><text class="t" x="2023.7" y="1369.5">W741 D5 Drains Decommissioning Complete</text><path class="ld" d="M2235,1372L2264,1513"/></g>
<g id="W745"><use href="#H" x="2282" y="1523" class="hb"/><text class="t" x="2285.6" y="1369.5">W745 A6 Drains Decommissioning Complete</text><path class="ld" d="M2285.6,1372L2283,1513"/></g>
<g id="W742"><use href="#H" x="2357.8" y="1523" class="hb"/><text class="t" x="2357.8" y="1390.5">W742 B4 Drains Decommissioning Complete</text><path class="ld" d="M2357.8,1393V1513"/></g>
<g id="W743"><use href="#H" x="2394.4" y="1523" class="hb"/><text class="t" x="2394.4" y="1410.5">W743 Transient Foul System Installation Complete</text><path class="ld" d="M2394.4,1413V1513"/></g>
<g id="W744"><use href="#D" x="2438.6" y="1523" class="hb"/><text class="t" x="2439.7" y="1433.5">W744 B55 Drains Decommissioning Complete &amp;</text><text class="t" x="2439.7" y="1445.5">W746 B7 Drains Decommissioning Complete</text><path class="ld" d="M2439.7,1448V1513"/></g>
<g id="W747"><use href="#H" x="2487" y="1523" class="hb"/><text class="t" x="2488" y="1468.5">W747 A5 Drains Decommissioning Complete</text><path class="ld" d="M2488,1471V1513"/></g>
<g id="W541"><use href="#H" x="2506.5" y="1523" class="hb"/><text class="t" x="2260.8" y="1559.5">W541 - Complete A59 Redundant Drain Removal</text><path class="ld" d="M2493.5,1556L2501,1533"/></g>
<g id="W74"><use href="#D" x="2574" y="1512.7" class="hb"/><text class="t" x="2573" y="1487.5">W74 - Drains &amp; Sewage Farm (A57) Removed</text><path class="ld" d="M2573,1490V1503"/></g>
<g id="W795"><use href="#H" x="2574" y="1536.7" class="hb"/><text class="t" x="2574" y="1571">W795 - Sewage Farm (A57) Removed</text><path class="ld" d="M2574,1562V1547"/></g>
<g id="W748"><use href="#H" x="2773.7" y="1523" class="hb"/><text class="t" x="2780" y="1554">W748 - Surface Water Flume</text><text class="t" x="2780" y="1565">Decommissioning Complete</text><path class="ld" d="M2773.7,1560V1533"/></g>
<g id="W749"><use href="#H" x="3099" y="1523" class="hb"/><text class="t" x="3104.5" y="1572">W749 D6 Drains Decommissioning Complete</text><path class="ld" d="M3099,1567V1533"/></g>
<g id="W785"><use href="#H" x="3110" y="1523" class="hb"/><text class="t" x="3112" y="1554">W785 - On Site Drains Decommissioned</text><path class="ld" d="M3106.6,1553V1533"/></g>
<g id="W790"><use href="#H" x="3151" y="1523" class="hb"/><text class="t" x="3155" y="1440.5">W790 - Sea Tanks Decommissioning</text><text class="t" x="3155" y="1452">Complete</text><path class="ld" d="M3161.6,1457L3153,1513"/></g>
<g id="W49"><use href="#D" x="3316.8" y="1523" class="hb"/><text class="t" x="3321" y="1458.5">W49 - Sea Pipeline</text><text class="t" x="3321" y="1469.5">Decommissioning</text><text class="t" x="3321" y="1480.5">Complete</text><path class="ld" d="M3316.8,1483V1513"/></g>
<g id="W854"><use href="#H" x="3541" y="1523" class="hb"/><text class="t e" x="3537" y="1485">W854 - Transient Foul</text><text class="t e" x="3537" y="1496">Decommissioning Complete</text><path class="ld" d="M3540,1498V1513"/></g>
<g id="bs-c4"><circle class="c" cx="461" cy="1663" r="7"/></g>
<g id="W838"><use href="#H" x="2307" y="1663" class="hb"/><text class="t" x="2124" y="1636">W838 - A7 Complex Demolition Complete</text><path class="ld" d="M2309,1640V1653"/></g>
<g id="W833"><use href="#H" x="2369.6" y="1663" class="hb"/><text class="t" x="2371.8" y="1576">W833 - B43 Demolition Complete</text><path class="ld" d="M2369.6,1578V1653"/></g>
<g id="W835"><use href="#H" x="2409.5" y="1663" class="hb"/><text class="t" x="2409.5" y="1593.5">W835 B44 &amp; B45 Demolition Complete</text><path class="ld" d="M2409.5,1596V1653"/></g>
<g id="W839"><use href="#H" x="2429" y="1663" class="hb"/><text class="t" x="2429" y="1610">W839 &amp; W840 - B4 &amp; B48 Demolitions Complete</text><path class="ld" d="M2436,1612L2431,1653"/></g>
<g id="W844"><use href="#H" x="2471" y="1663" class="hb"/><text class="t" x="2464.4" y="1627.5">W844 / 841 - Supercompactor &amp; A51 Demolition Complete</text><path class="ld" d="M2468,1630V1653"/></g>
<g id="W837"><use href="#H" x="2480" y="1663" class="hb"/><text class="t" x="2479.5" y="1644">W837 - B6 Complex Demolition Complete</text><path class="ld" d="M2479.5,1646V1653"/></g>
<g id="W842"><use href="#H" x="2493.5" y="1663" class="hb"/><text class="t" x="2493.5" y="1757">W842 - A545 Complex Demolition Complete</text><path class="ld" d="M2493.5,1749V1673"/></g>
<g id="W832"><use href="#H" x="2535.6" y="1663" class="hb"/><text class="t" x="2535.6" y="1740">W832 - A6 Complex Demolition Complete</text><path class="ld" d="M2535.6,1732V1673"/></g>
<g id="W865a"><use href="#H" x="2549.6" y="1663" class="hb"/><text class="t" x="2549.6" y="1724">W865 - Blacknoll Reservoir Decommissioning Complete</text><path class="ld" d="M2549.6,1716V1673"/></g>
<g id="W848"><use href="#H" x="2559" y="1663" class="hb"/><text class="t" x="2558" y="1708">W848/843/847 A50/A544/B71 Complex Decommissioning Complete</text><path class="ld" d="M2558,1700V1673"/></g>
<g id="W849"><use href="#H" x="2576.5" y="1663" class="hb"/><text class="t" x="2577.6" y="1692">W849 A56 Complex Demolition Complete</text><path class="ld" d="M2576.5,1684V1673"/></g>
<g id="W830"><use href="#H" x="3099" y="1663" class="hb"/><text class="t" x="2908.4" y="1697.5">W830 - A4 Minor Facilities Demolition</text><path class="ld" d="M3099,1690V1673"/></g>
<g id="W836"><use href="#H" x="3124" y="1663" class="hb"/><text class="t" x="3126" y="1610">W836 &amp; W851 - A5 /51.1 Complex</text><text class="t" x="3126" y="1621">Decommissioning Complete</text><path class="ld" d="M3126,1624V1653"/></g>
<g id="W846"><use href="#H" x="3147.7" y="1663" class="hb"/><text class="t" x="2919" y="1716">W846 &amp; W850 A51.1 &amp;A50 Decommissioned</text><path class="ld" d="M3131.5,1713L3145,1673"/></g>
<g id="W870"><use href="#H" x="3433" y="1663" class="hb"/><text class="t" x="3215.5" y="1696.5">W870 Start Decommissioning On-Site Store</text><path class="ld" d="M3429,1693V1673"/></g>
<g id="W834"><use href="#H" x="3440" y="1663" class="hb"/><text class="t" x="3176.7" y="1716">W834 &amp; W852 B5 &amp; B55 Complex Demolition complete</text><path class="ld" d="M3440,1712V1673"/></g>
<g id="W58a"><use href="#H" x="3515" y="1663" class="hb"/><text class="t" x="3320" y="1626">W58 On-Site Store Demolition Complete</text><path class="ld" d="M3514,1628L3515,1653"/></g>
<g id="W59"><use href="#H" x="3551.7" y="1663" class="hb"/><text class="t" x="3343.7" y="1610">W59 - Minor Facilities Demolition Complete</text><path class="ld" d="M3549.6,1612L3551,1653"/></g>
<g id="W855"><use href="#H" x="3551.7" y="1681" class="hb"/><text class="t" x="3347" y="1735">W855 - Infrastructure Demolition Complete</text><path class="ld" d="M3551.7,1732V1691"/></g>

<g id="wm-c1"><circle class="c" cx="461" cy="1791" r="7"/></g>
<g id="W215b"><use href="#H" x="492.6" y="1791" class="hg"/><text class="t" x="532" y="1742">W215 Repacking Operations Complete</text><path class="ld" d="M529,1745L500,1781"/></g>
<g id="W18"><use href="#D" x="515.8" y="1791" class="hg"/><text class="t" x="533" y="1832.5">W18 - UNAT/UDEP Relocation Complete</text><path class="ld" d="M535,1823L522,1802"/></g>
<g id="wm-c2"><circle class="c" cx="461" cy="1860" r="7"/></g>
<g id="W914"><use href="#H" x="880" y="1860" class="hb"/><text class="t" x="927.5" y="1779.3">W914 SWP Approval of Cadarache Coupons PCMSR/PCMSR</text><path class="ld" d="M922.6,1781L887,1850"/></g>
<g id="W915"><use href="#H" x="934.6" y="1860" class="hb"/><text class="t" x="964" y="1814.3">W915 Cadarache Coupons Processing Complete</text><path class="ld" d="M961,1815L941.6,1850"/></g>
<g id="W705"><use href="#H" x="2506.6" y="1860" class="hb"/><text class="t" x="2493" y="1920">W705 - Contract Awarded for Processing Bulk Sodium</text><path class="ld" d="M2505.7,1912V1870"/></g>
<g id="W919"><use href="#H" x="2528.7" y="1860" class="hb"/><text class="t" x="2519" y="1906">W919 - Approval by SWP for Bulk Sodium SEOR</text><path class="ld" d="M2528.7,1898V1870"/></g>
<g id="W910"><use href="#H" x="2539.4" y="1860" class="hb"/><text class="t" x="2546.5" y="1890">W910 - PSR Approval by SWP Bulk Sodium</text><path class="ld" d="M2545,1887H2541V1870"/></g>
<g id="W911"><use href="#H" x="2551" y="1860" class="hb"/><text class="t" x="2555" y="1774">W911 - Safety case Approval by PCSR for Bulk Sodium</text><path class="ld" d="M2552.7,1777V1850"/></g>
<g id="W912"><use href="#H" x="2574.8" y="1860" class="hb"/><text class="t" x="2577.5" y="1790">W912 - PCmSR Approval by SWP for Bulk Sodium</text><path class="ld" d="M2574.5,1793V1850"/></g>
<g id="W913"><use href="#H" x="2599.6" y="1860" class="hb"/><text class="t" x="2602" y="1806">W913 - POSR Approval by SWP for Bulk Sodium</text><path class="ld" d="M2599.6,1809V1850"/></g>
<g id="W969"><use href="#H" x="2621" y="1860" class="hb"/><text class="t" x="2608.5" y="1823">W969 - Approval by SWP of Decommissioning Modification</text><path class="ld" d="M2621,1826V1850"/></g>
<g id="W703"><use href="#H" x="2736" y="1860" class="hb"/><text class="t" x="2738" y="1839.5">W703 - Bulk Sodium Processing Complete</text><path class="ld" d="M2736,1842V1850"/></g>
<g id="wm-trs"><circle class="c" cx="461" cy="1933" r="7"/><circle class="c" cx="541" cy="1933" r="7"/><text class="t" x="588" y="1918.5">Receipt of Product</text><text class="t" x="588" y="1929.3">from Drums WETP</text><circle class="c" cx="960.5" cy="1933" r="7"/><text class="t" x="962" y="1921">All Drums in TRS</text><text class="ts m" x="2090" y="1929">TRS Storage Operations</text></g>
<g id="EW99"><use href="#R" x="3306" y="1933" class="hr"/><text class="tr e" x="3284" y="1900.5">EW99 Geological Disposal Facility</text><text class="tr e" x="3284" y="1912.5">ready to accept waste</text><path class="ld" d="M3288.5,1912L3300,1926"/></g>
<g id="W585"><use href="#H" x="3408" y="1933" class="hb"/><text class="t" x="3424" y="1924.5">W585 - B55 TRS - Shipments to</text><text class="t" x="3424" y="1936">Geological Disposal Facility</text><text class="t" x="3424" y="1947.5">Complete</text></g>
<g id="wm-c3"><circle class="c" cx="461" cy="2002" r="7"/></g>
<g id="W188"><use href="#H" x="478.6" y="2002" class="hg"/><text class="t" x="525" y="1976">W188 - Safety Case Review &amp; Approval by SWP</text><path class="ld" d="M523.5,1976L486,1996"/></g>
<g id="W453"><use href="#H" x="729" y="2002" class="hb"/><text class="t" x="741" y="2006">W453 - WETP Commissioning Completed</text></g>
<g id="wm-c4"><circle class="c" cx="461" cy="2079" r="7"/></g>
<g id="W455"><use href="#H" x="710" y="2079" class="hg"/><text class="t" x="486" y="2044">W455 - POSR Approved by SWP</text><path class="ld" d="M666,2040L701,2072"/></g>
<g id="EW24"><use href="#R" x="729" y="2079" class="hr"/><text class="tr" x="547" y="2112">EW24 - POSR Acknowledged by NII</text><path class="ld" d="M715.7,2105L726,2090"/></g>
<g id="W465"><use href="#H" x="833" y="2079" class="hb"/><text class="t" x="855" y="2132">W465 - WETP/EAST DSC Approved by SWP</text><path class="ld" d="M850,2129L834,2089"/></g>
<g id="EW27"><use href="#R" x="863.7" y="2079" class="hr"/><text class="tr" x="865" y="2110">EW27 - WETP/EAST DSC Endorsed by NII</text><path class="ld" d="M863.7,2102V2090"/></g>
<g id="W480b"><use href="#H" x="1038" y="2079" class="hb"/><text class="t" x="1055" y="2022">W480 - Sludge Immobilisation Operations Complete</text><path class="ld" d="M1057,2026L1040,2069"/></g>
<g id="W485"><use href="#H" x="1075" y="2079" class="hb"/><text class="t" x="1105" y="2045">W485 - EAST Tanks Decommissioned</text><path class="ld" d="M1103,2047L1082,2069"/></g>
<g id="W488"><use href="#H" x="1197.6" y="2079" class="hb"/><text class="t" x="1206.7" y="2114">W488 - East &amp; Associated Building Demolished</text><text class="t" x="1206.7" y="2125.5">W470 - WETP &amp; EAST Decommissioned</text><path class="ld" d="M1197.6,2127V2090"/></g>
<g id="W36"><use href="#D" x="1230" y="2079" class="hb"/><text class="t" x="1259" y="2069">W36 - WETP &amp; East Demolition Complete</text><path class="ld" d="M1258.7,2067L1242,2075"/></g>
<g id="wm-c5"><circle class="c" cx="461" cy="2209" r="7"/></g>
<g id="W866"><use href="#H" x="2196" y="2209" class="hb"/><text class="t" x="1953" y="2187.5">W866 - Winfrith On Site ILW Store Project Start</text><path class="ld" d="M2181,2189L2190,2200"/></g>
<g id="W681"><use href="#H" x="2502" y="2209" class="hb"/><text class="t" x="2322" y="2143.5">W681 Supply of 2M Boxes Complete</text><path class="ld" d="M2486,2147L2500,2199"/></g>
<g id="EW58"><use href="#R" x="2530.5" y="2209" class="hr"/><text class="tr" x="2504" y="2322">EW58 - NII Approval of PCSR Received for ILW Store</text><path class="ld" d="M2530.5,2313V2220"/></g>
<g id="EW60"><use href="#R" x="2597" y="2209" class="hr"/><text class="tr" x="2598.8" y="2301">EW60 - NII approval of PCmSR Received</text><path class="ld" d="M2608.5,2292L2597,2220"/></g>
<g id="W867"><use href="#H" x="2610" y="2209" class="hb"/><text class="t" x="2610" y="2135.5">W867 - Winfrith On Site ILW Store Construction complete</text><path class="ld" d="M2607.6,2138V2199"/></g>
<g id="W861"><use href="#H" x="2650" y="2209" class="hb"/><text class="t" x="2653" y="2155">W861 - Submit POSR to NII for ILW Store</text><path class="ld" d="M2651,2158V2199"/></g>
<g id="EW59"><use href="#R" x="2670.6" y="2209" class="hr"/><text class="tr" x="2672" y="2278">EW59 - NII Acknowledge POSR for ILW Store</text><path class="ld" d="M2684,2269L2671,2220"/></g>
<g id="W863"><use href="#D" x="2747.7" y="2209" class="hb"/><text class="t" x="2747.7" y="2182">W863 - On Site ILW Store Commissioning Complete</text><text class="t" x="2765.4" y="2237.5">W869 - ILW Operations in ILW Store Commence</text><path class="ld" d="M2761,2233L2754,2220"/></g>
<g id="W864"><use href="#H" x="3308" y="2209" class="hb"/><text class="t e" x="3288.5" y="2251.5">W864 - Winfrith ILW Shipments to</text><text class="t e" x="3288.5" y="2262.5">Geological Disposal Facility</text><text class="t e" x="3288.5" y="2273.5">Commence</text><path class="ld" d="M3289,2249L3301,2219"/></g>
<g id="W865"><use href="#D" x="3426" y="2209" class="hb"/><text class="t e" x="3421.5" y="2288.5">W865 - Winfrith ILW Shipments to</text><text class="t e" x="3421.5" y="2299.5">Geological Disposal Facility</text><text class="t e" x="3421.5" y="2310.5">Complete</text><path class="ld" d="M3426,2286V2220"/></g>
<g id="W58"><use href="#D" x="3514.6" y="2209" class="hb"/><text class="t" x="3417" y="2159">W58 - On Site Store</text><text class="t" x="3410" y="2170.5">Demolition Complete</text><path class="ld" d="M3514.6,2168V2199"/></g>
<g id="stores-case"><circle class="c" cx="3579" cy="2209" r="7"/><text class="t" x="3580" y="2159">Stores Area Delicensing</text><text class="t" x="3580" y="2170.5">Case Submitted to NII</text><path class="ld" d="M3588,2174L3581,2201"/></g>
<g id="wm-c6"><circle class="c" cx="461" cy="2329" r="7"/></g>
<g id="er-c1"><circle class="c" cx="461" cy="2438.5" r="7"/></g>
<g id="W100"><use href="#H" x="1572" y="2438.5" class="hb"/><text class="t" x="1607" y="2450.5">W100 - A4, B2 &amp; B3 Delicensing Case Accepted by NII</text><text class="t" x="1607" y="2462">EW39 B2 Delicensing Approval from NII</text><text class="t" x="1607" y="2473.5">EW39 B3 Delicensing Approval from NII</text><path class="ld" d="M1604,2447L1581,2443"/></g>
<g id="W97"><use href="#H" x="3224.6" y="2438.5" class="hb"/><text class="t" x="3235" y="2426.5">W97 - Winfrith Site Interim Closure State Achieved</text><path class="ld" d="M3234,2425L3228,2430"/></g>
<g id="stores-delicensed"><circle class="c" cx="3628" cy="2438.5" r="7"/><text class="t" x="3638.6" y="2387">Stores Area</text><text class="t" x="3638.6" y="2398.5">Delicensed</text><path class="ld" d="M3638.6,2401L3631.6,2430"/></g>
<g id="W98"><use href="#D" x="3628" y="2461" class="hb"/><text class="t e" x="3614.7" y="2464.5">W98 - Winfrith Site Delicensing Complete</text></g>
<g id="W99"><use href="#D" x="3628" y="2485" class="hb"/><text class="t e" x="3614.7" y="2488.5">W99 - Winfrith Site Closed Out</text></g>
</g>

<g id="legend">
<rect x="3450" y="88" width="196" height="333" fill="#fff" stroke="#222" stroke-width="1.5"/>
<text class="lg" x="3460" y="106" font-size="10">LEGEND</text>
<path stroke="#333" stroke-width="1.2" d="M3456,116H3630M3456,119H3630"/>
<use href="#D" x="3485" y="148" class="hg"/><text class="lg" x="3511" y="146">Completed Major</text><text class="lg" x="3511" y="159">Milestones</text>
<use href="#D" x="3485" y="180" class="hb"/><text class="lg" x="3511" y="184">Major Milestones</text>
<use href="#H" x="3485" y="210" class="hg"/><text class="lg" x="3511" y="207">Completed</text><text class="lg" x="3511" y="220">Key Milestones</text>
<use href="#H" x="3485" y="239" class="hb"/><text class="lg" x="3511" y="243">Key Milestones</text>
<use href="#R" x="3485" y="266" class="hr"/><text class="lg" x="3511" y="265" style="fill:#ee2b2b">External</text><text class="lg" x="3511" y="277" style="fill:#ee2b2b">Constraints</text>
<path stroke="#ee2b2b" stroke-width="2" d="M3458,292H3505"/><text class="lg" x="3511" y="296">Critical Path</text>
<path stroke="#ffc000" stroke-width="2" d="M3456,312H3505"/><text class="lg" x="3511" y="316">Paths of Concern</text>
<circle class="c" cx="3462" cy="338" r="7"/><path class="a2" d="M3469,338H3525" marker-end="url(#A)"/><circle class="c" cx="3532" cy="338" r="7"/><text class="lg" x="3556" y="342">Activity</text>
<path class="a1" d="M3514,357V386" marker-end="url(#s)"/>
<path fill="none" stroke="#111" stroke-width="2" d="M3460,385q6,4 0,8q-6,4 0,9M3462,393H3507M3521,393H3558M3562,385q6,4 0,8q-6,4 0,9"/>
<circle class="c" cx="3514" cy="393" r="7"/><text class="lg" x="3578" y="397">Interface</text>
</g>
</svg>
